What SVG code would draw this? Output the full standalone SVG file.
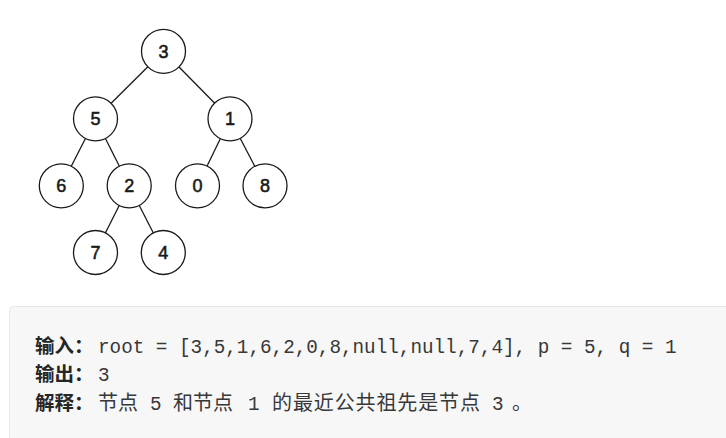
<svg xmlns="http://www.w3.org/2000/svg" width="726" height="438" viewBox="0 0 726 438">
<style>
.edge{stroke:#1a1a1a;stroke-width:1.3;fill:none}
.node circle{fill:#fff;stroke:#1a1a1a;stroke-width:1.3}
.node text{font-family:"Liberation Sans",Arial,sans-serif;font-size:18px;font-weight:normal;fill:#1a1a1a;stroke:#1a1a1a;stroke-width:0.55;text-anchor:middle}
.lbl{font-family:"Noto Sans CJK SC",sans-serif;font-weight:bold;font-size:19.5px;fill:#262626}
.code{font-family:"Liberation Mono",monospace;font-size:19.3px;fill:#383838}
.cjk{font-family:"Noto Sans CJK SC",sans-serif;font-size:20px;fill:#383838}
</style>
<rect width="726" height="438" fill="#fff"/>
<g id="connectors">
<line class="edge" x1="163.5" y1="51.3" x2="95.5" y2="118.8"/>
<line class="edge" x1="163.5" y1="51.3" x2="230" y2="118.8"/>
<line class="edge" x1="95.5" y1="118.8" x2="61.3" y2="185.8"/>
<line class="edge" x1="95.5" y1="118.8" x2="129.2" y2="185.8"/>
<line class="edge" x1="230" y1="118.8" x2="197.5" y2="185.8"/>
<line class="edge" x1="230" y1="118.8" x2="265" y2="185.8"/>
<line class="edge" x1="129.2" y1="185.8" x2="95.5" y2="252.5"/>
<line class="edge" x1="129.2" y1="185.8" x2="163.3" y2="252.5"/>
</g>
<g id="n3" class="node"><circle cx="163.5" cy="51.3" r="22"/><text x="163.5" y="57.8">3</text></g>
<g id="n5" class="node"><circle cx="95.5" cy="118.8" r="22"/><text x="95.5" y="125.3">5</text></g>
<g id="n1" class="node"><circle cx="230" cy="118.8" r="22"/><text x="230" y="125.3">1</text></g>
<g id="n6" class="node"><circle cx="61.3" cy="185.8" r="22"/><text x="61.3" y="192.3">6</text></g>
<g id="n2" class="node"><circle cx="129.2" cy="185.8" r="22"/><text x="129.2" y="192.3">2</text></g>
<g id="n0" class="node"><circle cx="197.5" cy="185.8" r="22"/><text x="197.5" y="192.3">0</text></g>
<g id="n8" class="node"><circle cx="265" cy="185.8" r="22"/><text x="265" y="192.3">8</text></g>
<g id="n7" class="node"><circle cx="95.5" cy="252.5" r="22"/><text x="95.5" y="259">7</text></g>
<g id="n4" class="node"><circle cx="163.3" cy="252.5" r="22"/><text x="163.3" y="259">4</text></g>
<g id="example">
<rect x="9.5" y="306.5" width="730" height="150" rx="4" fill="#f7f7f8" stroke="#e8e8e8" stroke-width="1"/>
<text class="lbl" x="35" y="352.5">输入：</text>
<text class="code" x="98" y="352.5">root = [3,5,1,6,2,0,8,null,null,7,4], p = 5, q = 1</text>
<text class="lbl" x="35" y="381">输出：</text>
<text class="code" x="98" y="381">3</text>
<text class="lbl" x="35" y="409.5">解释：</text>
<text class="cjk" x="98" y="409.5">节点</text>
<text class="code" x="150" y="409.5">5</text>
<text class="cjk" x="173" y="409.5">和节点</text>
<text class="code" x="248" y="409.5">1</text>
<text class="cjk" x="272" y="409.5" textLength="208" lengthAdjust="spacing">的最近公共祖先是节点</text>
<text class="code" x="492" y="409.5">3</text>
<text class="cjk" x="512" y="409.5">。</text>
</g>
</svg>
